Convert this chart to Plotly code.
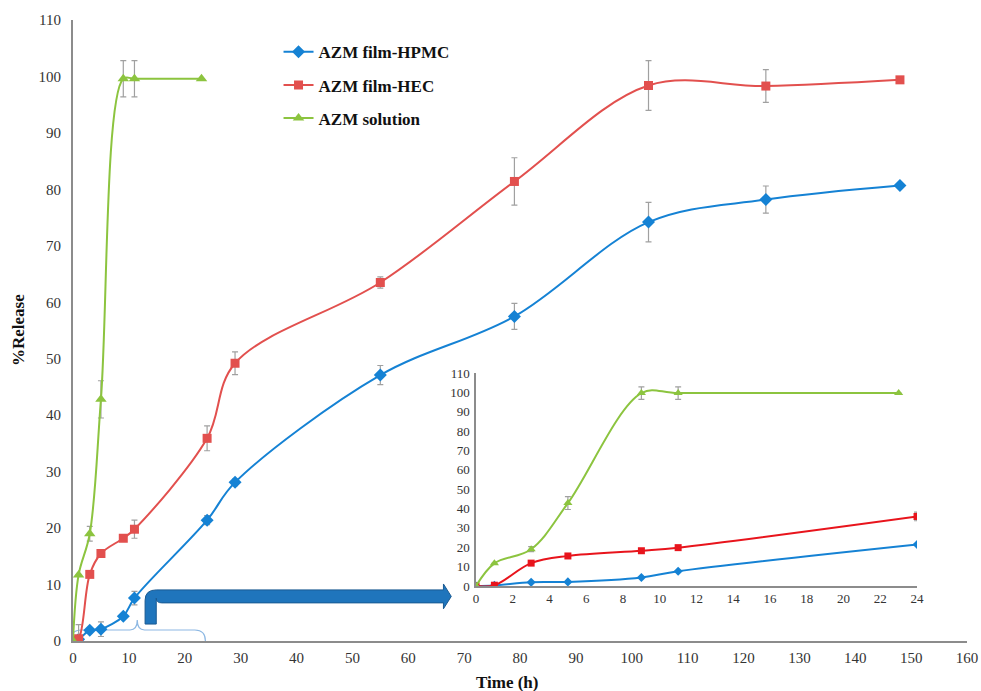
import plotly.graph_objects as go

# ---------------- data ----------------
t_film = [0, 1, 3, 5, 9, 11, 24, 29, 55, 79, 103, 124, 148]
hpmc = [0, 0.3, 1.9, 2.1, 4.4, 7.6, 21.4, 28.1, 47.1, 57.5, 74.2, 78.2, 80.7]
hpmc_err = [0, 0, 0.4, 1.3, 0.4, 1.2, 0.8, 0.6, 1.7, 2.3, 3.5, 2.4, 0]
hec = [0, 0.4, 11.8, 15.5, 18.2, 19.8, 35.9, 49.2, 63.5, 81.4, 98.4, 98.3, 99.4]
hec_err = [0, 2.5, 0, 0.6, 0.5, 1.6, 2.2, 2.0, 1.0, 4.2, 4.4, 2.9, 0]
t_sol = [0, 1, 3, 5, 9, 11, 23]
sol = [0, 11.7, 19.0, 42.8, 99.6, 99.6, 99.6]
sol_err = [0, 0, 1.3, 3.3, 3.2, 3.2, 0]

x_ticks_main = list(range(0, 161, 10))
y_ticks = list(range(0, 111, 10))
x_ticks_inset = list(range(0, 25, 2))

names = ["AZM film-HPMC", "AZM film-HEC", "AZM solution"]
BLUE = "#1582D4"
RED_MAIN = "#E2504E"
RED_INSET = "#E8141C"
GREEN = "#8CC43F"
ERR = "#A0A0A0"
SERIF = "Liberation Serif"

fig = go.Figure()

def add(x, y, e, name, color, symbol, size, xa, ya, show, group):
    fig.add_trace(go.Scatter(
        x=x, y=y, name="<b>" + name + "</b>", mode="lines+markers",
        line=dict(color=color, width=2, shape="spline", smoothing=1.0),
        marker=dict(symbol=symbol, size=size, color=color),
        error_y=dict(type="data", array=e, visible=True, color=ERR,
                     thickness=1.2, width=3),
        xaxis=xa, yaxis=ya, showlegend=show, legendgroup=group,
        hoverinfo="skip"))

# main chart
add(t_film, hpmc, hpmc_err, names[0], BLUE, "diamond", 10, "x", "y", True, "a")
add(t_film, hec, hec_err, names[1], RED_MAIN, "square", 9, "x", "y", True, "b")
add(t_sol, sol, sol_err, names[2], GREEN, "triangle-up", 10, "x", "y", True, "c")

# inset (first 24 h)
n24 = sum(1 for t in t_film if t <= 24)
inset_err_h = [0] * n24
inset_err_r = [0] * (n24 - 1) + [hec_err[n24 - 1]]
add(t_film[:n24], hpmc[:n24], inset_err_h, names[0], BLUE, "diamond", 7, "x2", "y2", False, "a")
add(t_film[:n24], hec[:n24], inset_err_r, names[1], RED_INSET, "square", 7, "x2", "y2", False, "b")
add(t_sol, sol, sol_err, names[2], GREEN, "triangle-up", 8, "x2", "y2", False, "c")

axis_common = dict(showgrid=False, zeroline=False, showline=True,
                   linecolor="#8C8C8C", ticks="", mirror=False, automargin=False)

fig.update_layout(
    width=981, height=691,
    margin=dict(l=73, r=14, t=20, b=50, autoexpand=False),
    paper_bgcolor="white", plot_bgcolor="white",
    font=dict(family=SERIF, color="#333333", size=13),
    xaxis=dict(range=[0, 160], tickvals=x_ticks_main, linewidth=2,
               tickfont=dict(size=15, family=SERIF), ticklabelstandoff=2,
               **axis_common),
    yaxis=dict(range=[0, 110], tickvals=y_ticks, linewidth=2,
               tickfont=dict(size=15, family=SERIF), ticklabelstandoff=7,
               **axis_common),
    xaxis2=dict(domain=[0.4508, 0.9441], range=[0, 24], tickvals=x_ticks_inset,
                anchor="y2", linewidth=1.5, tickfont=dict(size=13, family=SERIF),
                **axis_common),
    yaxis2=dict(domain=[0.0886, 0.4316], range=[0, 110], tickvals=y_ticks,
                anchor="x2", linewidth=1.5, tickfont=dict(size=13, family=SERIF),
                ticklabelstandoff=2, **axis_common),
    legend=dict(x=0.2299, y=0.977, xanchor="left", yanchor="top",
                bgcolor="rgba(0,0,0,0)", itemwidth=30, tracegroupgap=8,
                font=dict(family=SERIF, size=17, color="#111111"),
                itemclick=False),
    showlegend=True,
)

# axis titles
fig.add_annotation(text="<b>%Release</b>", xref="paper", yref="paper",
                   x=-0.0615, y=0.5008, textangle=-90, showarrow=False,
                   xanchor="center", yanchor="middle",
                   font=dict(family=SERIF, size=17, color="#111111"))
fig.add_annotation(text="<b>Time (h)</b>", xref="paper", yref="paper",
                   x=0.4855, y=-0.0676, showarrow=False,
                   xanchor="center", yanchor="middle",
                   font=dict(family=SERIF, size=17, color="#111111"))

# curly brace under the first 24 h of the main chart
fig.add_shape(type="path", xref="x", yref="y", layer="below",
              path=("M -0.4,0 Q -0.4,1.95 1.5,1.95 L 10.2,1.95 "
                    "Q 11.5,1.95 11.5,3.7 Q 11.5,1.95 12.8,1.95 "
                    "L 21.8,1.95 Q 23.7,1.95 23.7,0"),
              line=dict(color="#8DB8E3", width=1.2))

# bent arrow pointing to inset
fig.add_shape(type="path", xref="x", yref="y", layer="above",
              path=("M 12.9,3.0 L 12.9,7.2 Q 12.9,9.05 14.9,9.05 "
                    "L 66.3,9.05 L 66.3,10.1 L 67.7,7.9 L 66.3,5.7 L 66.3,6.75 "
                    "L 15.9,6.75 Q 14.9,6.75 14.9,7.6 L 14.9,3.0 Z"),
              fillcolor="#1F75BC", line=dict(color="#1A5A92", width=1))

fig.write_html("out.html", config={"displayModeBar": False},
               post_script="document.body.style.margin='0';")
